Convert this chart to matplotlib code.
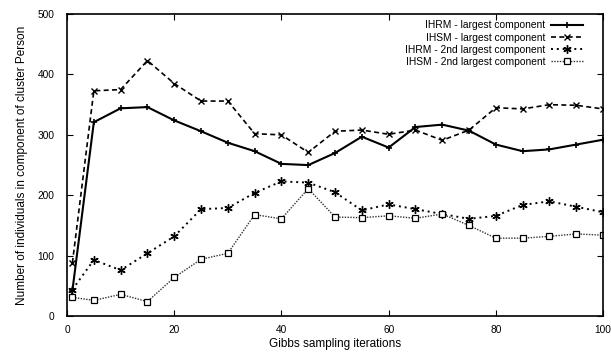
import matplotlib
matplotlib.use("Agg")
from matplotlib import pyplot as plt

plt.rcParams['font.family'] = ['Liberation Sans', 'DejaVu Sans']

iterations = [1, 5, 10, 15, 20, 25, 30, 35, 40, 45, 50, 55, 60, 65, 70, 75, 80, 85, 90, 95, 100]
ihrm_largest = [42, 321, 344, 346, 324, 306, 287, 273, 252, 250, 270, 297, 279, 313, 317, 307, 284, 273, 276, 284, 292]
ihsm_largest = [88, 373, 375, 423, 385, 356, 356, 302, 300, 271, 306, 308, 301, 308, 291, 308, 345, 343, 350, 349, 343]
ihrm_second = [44, 93, 76, 104, 132, 177, 179, 204, 223, 221, 205, 175, 185, 177, 169, 161, 166, 184, 190, 181, 172]
ihsm_second = [31, 26, 36, 24, 64, 94, 104, 168, 161, 211, 164, 163, 166, 162, 169, 150, 129, 129, 132, 136, 134]

labels = ["IHRM - largest component", "IHSM - largest component",
          "IHRM - 2nd largest component", "IHSM - 2nd largest component"]

fig, ax = plt.subplots(figsize=(6.11, 3.52), dpi=100)
fig.subplots_adjust(left=0.1097, right=0.987, top=0.960, bottom=0.102)

ax.plot(iterations, ihrm_largest, color='black', lw=1.5, ls='-',
        marker='+', ms=5, mew=1.2, label=labels[0])
ax.plot(iterations, ihsm_largest, color='black', lw=1.2, ls=(0, (3, 2)),
        marker='x', ms=5, mew=1.0, label=labels[1])
ax.plot(iterations, ihrm_second, color='black', lw=1.4, ls=(0, (1, 2)),
        marker=(6, 2, 0), ms=6, mew=1.0, label=labels[2])
ax.plot(iterations, ihsm_second, color='#333333', lw=1.0, ls=(0, (1, 1)),
        marker='s', ms=5, mfc='white', mec='black', mew=0.9, label=labels[3])

ax.set_xlim(0, 100)
ax.set_ylim(0, 500)
ax.set_xticks(range(0, 101, 20))
ax.set_yticks(range(0, 501, 100))
ax.tick_params(direction='in', top=True, right=True, labelsize=7.3, length=4)
ax.tick_params(axis='y', pad=9)
ax.tick_params(axis='x', pad=6.5)
for s in ax.spines.values():
    s.set_linewidth(1.2)

ax.set_xlabel("Gibbs sampling iterations", fontsize=8.5, labelpad=2)
ax.set_ylabel("Number of individuals in component of cluster Person", fontsize=8.5, labelpad=7)

ax.legend(loc='upper right', frameon=False, markerfirst=False, fontsize=7.4,
          handlelength=3.2, handletextpad=0.5, labelspacing=0.22,
          borderaxespad=0.2, bbox_to_anchor=(0.975, 1.0))

fig.savefig("out.png", dpi=100)
